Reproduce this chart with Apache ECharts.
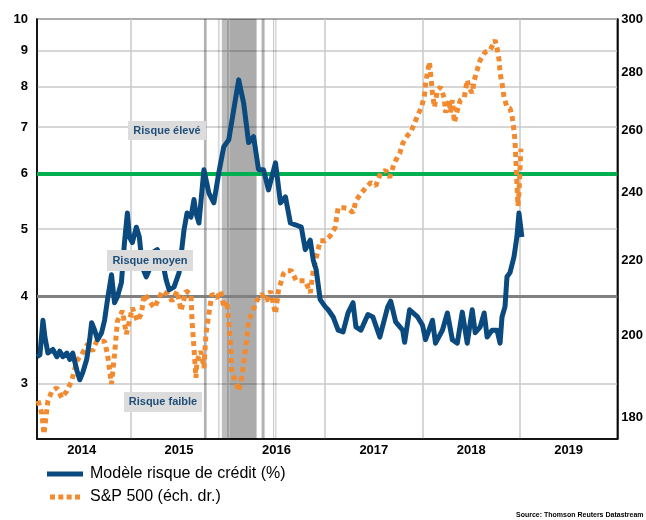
<!DOCTYPE html>
<html>
<head>
<meta charset="utf-8">
<script src="https://cdn.jsdelivr.net/npm/echarts@6/dist/echarts.min.js"></script>
<style>
  html, body { margin: 0; padding: 0; background: #fff; }
  #chart { width: 646px; height: 520px; }
</style>
</head>
<body>
<div id="chart"></div>
<script>
// x values are decimal years
const creditT = [2014.041, 2014.071, 2014.102, 2014.122, 2014.153, 2014.204, 2014.245, 2014.275, 2014.306, 2014.347,
  2014.378, 2014.408, 2014.449, 2014.480, 2014.510, 2014.551, 2014.582, 2014.602, 2014.633, 2014.663,
  2014.704, 2014.735, 2014.765, 2014.806, 2014.837, 2014.867, 2014.908, 2014.939, 2014.969, 2014.990,
  2015.020, 2015.061, 2015.092, 2015.122, 2015.163, 2015.194, 2015.224, 2015.276, 2015.327, 2015.367,
  2015.398, 2015.449, 2015.500, 2015.551, 2015.582, 2015.622, 2015.653, 2015.673, 2015.704, 2015.755,
  2015.806, 2015.857, 2015.908, 2015.959, 2016.010, 2016.061, 2016.112, 2016.163, 2016.214, 2016.265,
  2016.316, 2016.367, 2016.418, 2016.490, 2016.541, 2016.592, 2016.643, 2016.694, 2016.755, 2016.796,
  2016.847, 2016.878, 2016.908, 2016.949, 2017.000, 2017.031, 2017.082, 2017.133, 2017.184, 2017.235,
  2017.286, 2017.316, 2017.367, 2017.439, 2017.490, 2017.561, 2017.643, 2017.673, 2017.724, 2017.796,
  2017.816, 2017.867, 2017.949, 2018.000, 2018.031, 2018.102, 2018.133, 2018.204, 2018.255, 2018.306,
  2018.357, 2018.408, 2018.459, 2018.510, 2018.541, 2018.592, 2018.633, 2018.663, 2018.714, 2018.765,
  2018.796, 2018.816, 2018.847, 2018.867, 2018.898, 2018.939, 2018.969, 2018.990, 2019.020];
const creditValues = [3.28, 3.30, 3.70, 3.50, 3.32, 3.36, 3.28, 3.34, 3.28, 3.32,
  3.25, 3.32, 3.14, 3.04, 3.11, 3.25, 3.47, 3.67, 3.58, 3.47,
  3.55, 3.70, 3.96, 4.30, 3.92, 4.00, 4.19, 4.78, 5.27, 4.87,
  4.78, 5.03, 4.87, 4.41, 4.27, 4.37, 4.62, 4.67, 4.51, 4.23,
  4.09, 4.13, 4.33, 4.99, 5.27, 5.20, 5.51, 5.27, 5.10, 6.08,
  5.63, 5.45, 6.02, 6.56, 6.71, 7.41, 8.18, 7.58, 6.65, 6.78,
  6.08, 6.08, 5.69, 6.22, 5.45, 5.56, 5.10, 5.07, 5.03, 4.67,
  4.82, 4.51, 4.37, 3.96, 3.87, 3.83, 3.74, 3.58, 3.56, 3.79,
  3.92, 3.62, 3.58, 3.77, 3.74, 3.50, 3.87, 3.94, 3.68, 3.58,
  3.44, 3.83, 3.74, 3.64, 3.47, 3.70, 3.43, 3.58, 3.79, 3.47,
  3.43, 3.80, 3.43, 3.83, 3.55, 3.62, 3.79, 3.50, 3.58, 3.58,
  3.43, 3.74, 3.87, 4.27, 4.33, 4.56, 4.87, 5.27, 4.87];

const spxT = [2014.051, 2014.092, 2014.112, 2014.153, 2014.194, 2014.245, 2014.296, 2014.347, 2014.398, 2014.449,
  2014.500, 2014.561, 2014.612, 2014.653, 2014.704, 2014.735, 2014.765, 2014.806, 2014.837, 2014.867,
  2014.918, 2014.959, 2014.990, 2015.020, 2015.071, 2015.112, 2015.143, 2015.194, 2015.245, 2015.296,
  2015.327, 2015.378, 2015.429, 2015.480, 2015.520, 2015.571, 2015.622, 2015.633, 2015.653, 2015.673,
  2015.684, 2015.724, 2015.755, 2015.776, 2015.806, 2015.837, 2015.888, 2015.929, 2015.959, 2015.990,
  2016.010, 2016.031, 2016.041, 2016.082, 2016.112, 2016.143, 2016.184, 2016.214, 2016.245, 2016.296,
  2016.347, 2016.398, 2016.439, 2016.490, 2016.520, 2016.571, 2016.602, 2016.653, 2016.704, 2016.745,
  2016.796, 2016.847, 2016.878, 2016.908, 2016.949, 2017.000, 2017.051, 2017.102, 2017.133, 2017.184,
  2017.235, 2017.286, 2017.316, 2017.367, 2017.418, 2017.469, 2017.520, 2017.571, 2017.622, 2017.663,
  2017.694, 2017.724, 2017.765, 2017.796, 2017.847, 2017.878, 2017.918, 2017.949, 2017.990, 2018.020,
  2018.031, 2018.051, 2018.071, 2018.082, 2018.102, 2018.122, 2018.153, 2018.184, 2018.224, 2018.235,
  2018.276, 2018.286, 2018.306, 2018.327, 2018.357, 2018.388, 2018.429, 2018.459, 2018.480, 2018.510,
  2018.531, 2018.561, 2018.592, 2018.643, 2018.694, 2018.745, 2018.765, 2018.786, 2018.796, 2018.816,
  2018.837, 2018.867, 2018.898, 2018.918, 2018.939, 2018.949, 2018.959, 2018.969, 2018.980, 2018.990,
  2019.000, 2019.010];
const spxValues = [183.8, 180.7, 176.1, 183.8, 186.1, 186.9, 184.5, 186.1, 188.6, 193.4,
  195.1, 197.7, 195.9, 198.4, 198.4, 198.4, 195.1, 187.8, 195.1, 203.6,
  206.3, 200.2, 203.6, 207.1, 203.6, 205.5, 210.8, 208.9, 207.1, 209.7,
  211.6, 210.8, 208.9, 211.6, 206.3, 211.6, 210.8, 203.6, 196.7, 189.3,
  193.4, 195.9, 191.7, 200.2, 205.5, 210.8, 209.7, 211.6, 207.1, 208.9,
  203.6, 196.7, 190.2, 188.6, 186.1, 189.3, 196.7, 203.6, 205.5, 208.9,
  210.8, 208.9, 211.6, 205.5, 211.6, 216.3, 217.2, 217.2, 214.4, 214.4,
  214.4, 211.1, 217.2, 220.8, 225.7, 225.7, 227.1, 229.5, 235.5, 235.5,
  235.2, 234.0, 237.6, 239.8, 241.6, 243.2, 242.2, 246.3, 247.0, 244.8,
  247.9, 250.2, 252.4, 255.7, 258.4, 259.4, 262.4, 265.1, 267.9, 272.1,
  276.3, 280.2, 283.9, 279.9, 272.8, 267.9, 273.8, 274.9, 271.0, 266.1,
  270.3, 266.1, 270.3, 262.7, 266.8, 270.3, 271.3, 277.4, 274.5, 272.8,
  277.4, 281.0, 284.6, 287.5, 288.3, 292.0, 289.0, 284.6, 279.9, 276.3,
  271.3, 267.9, 267.5, 265.1, 260.0, 256.7, 250.0, 243.0, 236.0, 240.0,
  247.0, 254.0];

const yearLabels = [2014.5, 2015.5, 2016.5, 2017.5, 2018.5, 2019.5];
const yearLines = [2015, 2016, 2017, 2018, 2019];
const leftTicks = [3, 4, 5, 6, 7, 8, 9, 10];
const rightTicks = [180, 200, 220, 240, 260, 280, 300];
const highRiskLevel = 6;
const midRiskLevel = 4;
// shaded event periods (decimal years)
const shadedPeriods = [
  [2015.755, 2015.783], [2015.898, 2015.918], [2015.939, 2016.020],
  [2016.020, 2016.296], [2016.347, 2016.378], [2016.466, 2016.476], [2016.489, 2016.499]
];
const shadeAlpha = [0.3, 0.15, 0.26, 0.33, 0.3, 0.25, 0.25];

const creditName = 'Modèle risque de crédit (%)';
const spxName = 'S&P 500 (éch. dr.)';
const FONT = '"Liberation Sans", Arial, sans-serif';
const BLUE = '#0b4a7e';
const ORANGE = '#f28a30';

const chart = echarts.init(document.getElementById('chart'), null, { renderer: 'canvas' });

const zip = (xs, ys) => xs.map((x, i) => [x, ys[i]]);

const labelBox = (text, left, top, w, h) => ({
  type: 'group',
  left, top, z: 100,
  children: [
    { type: 'rect', z: 100, shape: { x: 0, y: 0, width: w, height: h }, style: { fill: '#dcdcdc' } },
    { type: 'text', z: 101, x: w / 2, y: h / 2, style: {
      text, fill: '#1f4e79', font: 'bold 11px ' + FONT, align: 'center', verticalAlign: 'middle'
    } }
  ]
});

chart.setOption({
  animation: false,
  grid: { left: 37, right: 25, top: 19, bottom: 81, show: true, borderColor: '#222', borderWidth: 1.5 },
  xAxis: {
    type: 'value',
    min: 2014.041,
    max: 2020,
    axisLine: { show: true, onZero: false, lineStyle: { color: '#000', width: 1.5 } },
    axisTick: { show: false, customValues: yearLines },
    axisLabel: {
      customValues: yearLabels,
      formatter: v => String(Math.floor(v)),
      color: '#000', fontFamily: FONT, fontWeight: 'bold', fontSize: 13, margin: 5
    },
    splitLine: { show: true, lineStyle: { color: '#c8c8c8', width: 1.5 } }
  },
  yAxis: [{
    type: 'log',
    logBase: 10,
    min: 2.5,
    max: 10,
    position: 'left',
    axisLine: { show: true, lineStyle: { color: '#000', width: 1.5 } },
    axisTick: { show: false, customValues: leftTicks },
    axisLabel: {
      customValues: leftTicks,
      formatter: v => String(Math.round(v)),
      color: '#000', fontFamily: FONT, fontWeight: 'bold', fontSize: 13, margin: 9
    },
    splitLine: { show: true, lineStyle: { color: '#c8c8c8', width: 1.5 } }
  }, {
    type: 'log',
    logBase: 10,
    min: 175,
    max: 300,
    position: 'right',
    axisLine: { show: true, lineStyle: { color: '#000', width: 1.5 } },
    axisTick: { show: false, customValues: rightTicks },
    axisLabel: {
      customValues: rightTicks,
      formatter: v => String(Math.round(v)),
      color: '#000', fontFamily: FONT, fontWeight: 'bold', fontSize: 13, margin: 4
    },
    splitLine: { show: false }
  }],
  legend: {
    orient: 'vertical',
    left: 42,
    top: 461,
    itemWidth: 36,
    itemHeight: 5,
    itemGap: 7,
    data: [
      { name: creditName, icon: 'rect' },
      { name: spxName, icon: 'path://M0 0h6v6H0z M10 0h6v6H10z M20 0h6v6H20z M30 0h6v6H30z' }
    ],
    textStyle: { color: '#000', fontFamily: FONT, fontSize: 16, padding: [0, 0, 0, 2] }
  },
  series: [{
    name: spxName,
    type: 'line',
    yAxisIndex: 1,
    symbol: 'none',
    data: zip(spxT, spxValues),
    lineStyle: { color: ORANGE, width: 5, type: [5, 4], cap: 'butt' },
    itemStyle: { color: ORANGE },
    markArea: {
      silent: true,
      z: 1,
      data: shadedPeriods.map((p, i) => [
        { xAxis: p[0], itemStyle: { color: 'rgba(0,0,0,' + shadeAlpha[i] + ')' } },
        { xAxis: p[1] }
      ])
    }
  }, {
    name: creditName,
    type: 'line',
    yAxisIndex: 0,
    symbol: 'none',
    data: zip(creditT, creditValues),
    lineStyle: { color: BLUE, width: 5, join: 'round' },
    itemStyle: { color: BLUE },
    markLine: {
      silent: true,
      z: 1,
      symbol: 'none',
      label: { show: false },
      data: [
        { yAxis: highRiskLevel, lineStyle: { color: '#00b050', width: 4, type: 'solid' } },
        { yAxis: midRiskLevel, lineStyle: { color: '#808080', width: 3, type: 'solid' } }
      ]
    }
  }],
  graphic: [
    labelBox('Risque élevé', 128, 121, 78, 19),
    labelBox('Risque moyen', 107, 250, 86, 21),
    labelBox('Risque faible', 124, 392, 78, 20),
    { type: 'text', left: 516, top: 512, z: 100, style: {
      text: 'Source: Thomson Reuters Datastream', fill: '#000', font: 'bold 7px ' + FONT
    } }
  ]
});
</script>
</body>
</html>
